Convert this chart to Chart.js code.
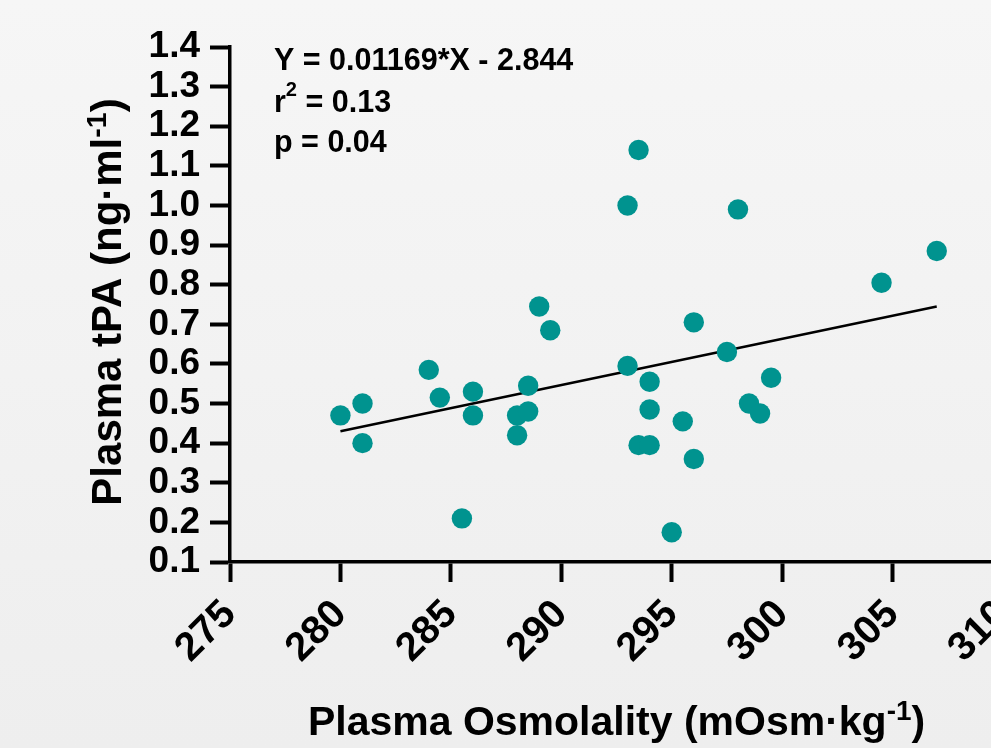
<!DOCTYPE html>
<html>
<head>
<meta charset="utf-8">
<title>Plasma tPA vs Plasma Osmolality</title>
<script src="https://cdn.jsdelivr.net/npm/chart.js@4.4.0/dist/chart.umd.min.js"></script>
<style>
    html, body { margin: 0; padding: 0; width: 991px; height: 748px; overflow: hidden; }
    body { background: linear-gradient(#f6f6f6, #eeeeee); }
    canvas { display: block; }
</style>
</head>
<body>
<canvas id="chart" width="1020" height="748"></canvas>
<script>

// ############################### DATA ###############################

var osmolality = [280, 281, 281, 284, 284.5, 286, 286, 285.5, 288, 288.5, 288, 288.5, 289, 289.5, 293, 293.5,
                  293, 298, 307, 304.5, 296, 297.5, 294, 299.5, 294, 298.5, 299, 295.5, 293.5, 294, 296, 295];
var tpa = [0.47, 0.50, 0.40, 0.585, 0.515, 0.53, 0.47, 0.21, 0.47, 0.48, 0.42, 0.545, 0.745, 0.685, 0.595, 1.14,
           1.00, 0.99, 0.885, 0.805, 0.705, 0.63, 0.555, 0.565, 0.485, 0.50, 0.475, 0.455, 0.395, 0.395, 0.36, 0.175];

// regression line end points
var fitX = [280, 307];
var fitY = [0.43, 0.745];

var xRange = [275, 310, 5];
var yRange = [0.1, 1.4, 0.1];

var equationText = 'Y = 0.01169*X - 2.844';
var rSquaredText = ' = 0.13';
var pValueText = 'p = 0.04';

// ############################### HELPERS ###############################

var FONT = '"Liberation Sans", Arial, Helvetica, sans-serif';
var TEAL = '#00938f';

// draw text made of [string, isSuperscript] parts, starting at x (or centred on x)
function drawRich(ctx, parts, x, y, size, supRatio, supRise, centred) {
    var widths = [];
    var total = 0;
    for (var i = 0; i < parts.length; i++) {
        ctx.font = 'bold ' + (parts[i][1] ? size * supRatio : size) + 'px ' + FONT;
        widths[i] = ctx.measureText(parts[i][0]).width;
        total += widths[i];
    }
    var cx = centred ? x - total / 2 : x;
    for (var j = 0; j < parts.length; j++) {
        ctx.font = 'bold ' + (parts[j][1] ? size * supRatio : size) + 'px ' + FONT;
        ctx.fillText(parts[j][0], cx, parts[j][1] ? y - size * supRise : y);
        cx += widths[j];
    }
}

var textPlugin = {
    id: 'chartTexts',
    afterDraw: function (chart) {
        var ctx = chart.ctx;
        var area = chart.chartArea;
        ctx.save();
        ctx.fillStyle = '#000';
        ctx.textAlign = 'left';
        ctx.textBaseline = 'alphabetic';

        // x axis title
        drawRich(ctx, [['Plasma Osmolality (mOsm\u00b7kg', false], ['-1', true], [')', false]],
                 (area.left + area.right) / 2, 735, 41, 0.68, 0.36, true);

        // y axis title
        ctx.save();
        ctx.translate(121, 302);
        ctx.rotate(-Math.PI / 2);
        drawRich(ctx, [['Plasma tPA (ng\u00b7ml', false], ['-1', true], [')', false]],
                 0, 0, 42, 0.68, 0.36, true);
        ctx.restore();

        // regression statistics
        drawRich(ctx, [[equationText, false]], 274, 69.5, 30.5, 0.6, 0.5, false);
        drawRich(ctx, [['r', false], ['2', true], [rSquaredText, false]], 274, 112, 30.5, 0.66, 0.54, false);
        drawRich(ctx, [[pValueText, false]], 274, 152, 30.5, 0.6, 0.5, false);

        ctx.restore();
    }
};

// ############################### MAIN ###############################

var points = [];
for (var i = 0; i < osmolality.length; i++)
    points.push({x: osmolality[i], y: tpa[i]});

var fitLine = [];
for (var k = 0; k < fitX.length; k++)
    fitLine.push({x: fitX[k], y: fitY[k]});

var chart = new Chart(document.getElementById('chart'), {
    type: 'scatter',
    data: {
        datasets: [{
            data: points,
            backgroundColor: TEAL,
            borderWidth: 0,
            pointRadius: 10.2,
            pointHoverRadius: 10.2,
            order: 1
        }, {
            type: 'line',
            data: fitLine,
            borderColor: '#000',
            borderWidth: 2.5,
            pointRadius: 0,
            fill: false,
            order: 2
        }]
    },
    options: {
        responsive: false,
        animation: false,
        events: [],
        layout: {padding: {left: 0, top: 47, right: 17, bottom: 0}},
        plugins: {legend: {display: false}, tooltip: {enabled: false}},
        scales: {
            x: {
                type: 'linear',
                min: xRange[0],
                max: xRange[1],
                border: {display: true, color: '#000', width: 3.5},
                grid: {drawOnChartArea: false, drawTicks: true, tickLength: 20, tickWidth: 4, tickColor: '#000'},
                ticks: {
                    stepSize: xRange[2],
                    autoSkip: false,
                    minRotation: 45,
                    maxRotation: 45,
                    padding: 9,
                    color: '#000',
                    font: {family: FONT, size: 40, weight: 'bold'}
                },
                afterFit: function (scale) {
                    scale.height = 186;
                    scale.paddingLeft = 0;
                    scale.paddingRight = 0;
                }
            },
            y: {
                type: 'linear',
                min: yRange[0],
                max: yRange[1],
                border: {display: true, color: '#000', width: 3.5},
                grid: {drawOnChartArea: false, drawTicks: true, tickLength: 20, tickWidth: 4, tickColor: '#000'},
                ticks: {
                    stepSize: yRange[2],
                    autoSkip: false,
                    padding: 10,
                    color: '#000',
                    font: {family: FONT, size: 37, weight: 'bold'},
                    callback: function (value) { return value.toFixed(1); }
                },
                afterFit: function (scale) {
                    scale.width = 230;
                    scale.paddingTop = 0;
                    scale.paddingBottom = 0;
                }
            }
        }
    },
    plugins: [textPlugin]
});
</script>
</body>
</html>
